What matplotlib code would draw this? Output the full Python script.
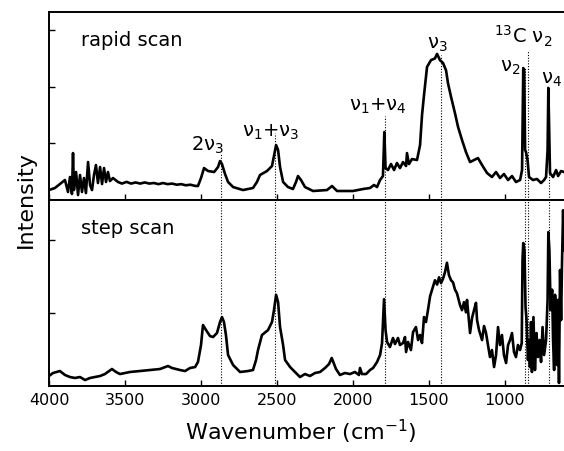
import matplotlib
matplotlib.use("Agg")
import matplotlib.pyplot as plt

# ---------------- data ----------------
rapid_wn = [4000, 3961, 3895, 3875, 3862, 3849, 3842, 3836, 3822, 3809, 3796, 3783, 3770, 3757,
            3743, 3730, 3717, 3704, 3691, 3678, 3664, 3651, 3638, 3625, 3612, 3599, 3579, 3546,
            3520, 3490, 3460, 3430, 3400, 3370, 3340, 3310, 3280, 3250, 3220, 3190, 3160, 3130,
            3100, 3070, 3040,
            3020, 3000, 2980, 2954, 2914, 2888, 2875, 2862, 2842, 2822,
            2789, 2724, 2658, 2632, 2612, 2566, 2533, 2506, 2493, 2480, 2460, 2428, 2395, 2375,
            2362, 2342, 2316, 2263, 2171, 2138, 2105, 2000, 1934, 1888, 1862, 1842, 1822, 1803,
            1794, 1786, 1770, 1750, 1730, 1711, 1691, 1671, 1651, 1645, 1632, 1612, 1579, 1559,
            1546, 1533, 1513, 1487, 1461, 1447, 1428, 1408, 1388, 1375, 1355, 1329, 1309, 1283,
            1257, 1230, 1204, 1178, 1151, 1118, 1086, 1059, 1033, 1007, 980, 954, 928, 901,
            888, 880, 874, 868, 862, 852, 842, 816, 790, 763, 743, 730, 720, 715, 707, 704,
            684, 664, 651, 631, 612]
rapid_int = [1.76, 2.12, 3.53, 1.41, 4.06, 1.06, 8.29, 1.76, 4.94, 0.88, 4.41, 1.41, 3.88, 1.23,
             6.70, 2.65, 1.76, 4.41, 6.17, 3.00, 5.82, 2.82, 5.64, 3.18, 4.94, 3.35, 3.88, 3.18,
             2.90, 3.20, 2.90, 3.10, 2.90, 3.10, 2.90, 3.00, 2.80, 3.00, 2.80, 2.90, 2.70, 2.80,
             2.60, 2.70, 2.50,
             2.47, 3.88, 5.64, 5.12, 4.94, 5.82, 6.88, 6.35, 4.59, 3.18,
             2.29, 1.76, 2.12, 3.18, 4.41, 5.12, 6.00, 9.70, 8.82, 5.82, 3.18, 2.29, 1.94, 3.18,
             4.23, 3.53, 2.29, 1.59, 1.76, 2.47, 1.59, 1.59, 1.94, 2.12, 2.65, 2.29, 3.53, 4.23,
             12.0, 5.64, 5.29, 6.35, 5.29, 6.53, 5.64, 6.70, 6.00, 8.29, 6.35, 7.23, 7.06, 9.70,
             15.0, 18.5, 23.5, 24.7, 25.0, 25.8, 24.7, 24.2, 22.9, 20.6, 18.2, 15.3, 12.9, 10.6,
             8.47, 6.70, 7.06, 7.41, 6.17, 4.76, 4.06, 4.94, 3.88, 4.59, 3.53, 4.23, 3.18, 3.53,
             5.29, 23.3, 22.9, 8.82, 8.47, 7.06, 4.06, 3.53, 3.71, 3.00, 3.53, 4.06, 8.80, 19.8,
             8.80, 4.76, 4.06, 5.29, 4.23, 5.12, 4.94]

step_wn = [4000, 3974, 3928, 3895, 3862, 3829, 3796, 3763, 3730, 3697, 3664, 3632, 3586, 3559,
           3533, 3467, 3401, 3336, 3270, 3217, 3191, 3138, 3105, 3072, 3039, 3020, 3000, 2987,
           2967, 2941, 2921, 2895, 2875, 2862, 2849, 2836, 2822, 2789, 2743, 2691, 2658, 2638,
           2625, 2599, 2559, 2533, 2520, 2506, 2493, 2480, 2460, 2447, 2414, 2382, 2349, 2316,
           2283, 2250, 2217, 2184, 2158, 2140, 2125, 2112, 2086, 2053, 2020, 1987, 1961, 1954,
           1941, 1914, 1888, 1868, 1842, 1822, 1809, 1796, 1786, 1776, 1757, 1737, 1724, 1704,
           1691, 1671, 1658, 1651, 1638, 1619, 1605, 1586, 1572, 1559, 1546, 1533, 1520, 1507,
           1493, 1480, 1467, 1461, 1447, 1434, 1421, 1408, 1395, 1382, 1369, 1355, 1342, 1329,
           1316, 1296, 1283, 1270, 1257, 1250, 1237, 1230, 1217, 1204, 1191, 1184, 1171, 1151,
           1138, 1125, 1112, 1099, 1086, 1072, 1059, 1046, 1033, 1020, 1007, 993, 980, 967,
           954, 941, 928, 915, 901, 890, 885, 880, 872, 865, 859, 849, 842, 836, 829, 823,
           813, 803, 793, 783, 773, 763, 753, 743, 730, 720, 715, 708, 700, 690, 684, 677,
           671, 664, 658, 651, 645, 638, 631, 625, 618, 612]
step_int = [1.37, 1.78, 2.05, 1.51, 1.23, 1.10, 1.23, 0.82, 1.10, 1.23, 1.37, 1.64, 2.33, 1.92,
            1.64, 1.92, 2.05, 2.19, 2.33, 2.74, 2.47, 2.19, 2.05, 2.47, 2.60, 3.29, 5.62, 8.36,
            7.67, 6.85, 6.71, 7.26, 8.77, 9.45, 8.77, 6.99, 4.25, 2.88, 1.92, 2.05, 2.19, 3.56,
            4.93, 6.99, 7.67, 8.77, 10.4, 12.5, 11.5, 8.08, 5.62, 3.56, 2.60, 1.92, 1.23, 1.64,
            1.37, 1.78, 1.92, 2.47, 3.01, 3.84, 3.01, 2.33, 1.51, 1.78, 1.64, 1.92, 1.51, 2.47,
            1.64, 1.64, 2.19, 2.47, 3.29, 4.25, 5.89, 11.9, 7.67, 6.03, 5.34, 6.58, 5.75, 6.58,
            5.62, 5.89, 6.71, 4.66, 6.03, 4.93, 7.40, 8.08, 6.30, 6.99, 5.89, 9.45, 8.77, 10.4,
            12.3, 13.2, 14.1, 14.5, 13.9, 14.9, 14.1, 14.7, 15.6, 16.9, 15.2, 14.5, 14.2, 13.2,
            12.7, 11.1, 10.4, 11.5, 10.1, 11.8, 8.77, 7.26, 9.32, 10.4, 11.4, 9.04, 7.67, 6.30,
            8.22, 7.26, 5.62, 3.97, 4.93, 2.60, 4.25, 8.08, 5.62, 6.99, 4.25, 3.15, 5.62, 6.30,
            7.26, 4.66, 3.97, 5.62, 4.93, 5.89, 17.3, 19.6, 18.6, 10.8, 9.32, 3.56, 6.30, 2.60,
            8.77, 1.92, 9.45, 2.19, 7.26, 3.97, 6.30, 3.29, 8.08, 4.25, 6.30, 11.8, 21.1, 18.6,
            10.4, 13.2, 6.30, 2.19, 12.5, 10.4, 2.88, 11.8, 0.41, 15.9, 9.04, 17.0, 24.1, 18.6]

# band assignments: position, label, label anchor (wn, y), dotted-line top in upper panel
band_pos = [2870, 2511, 1792, 1423, 870, 848, 713]
band_top = [8.3, 11.8, 14.8, 25.6, 23.3, 26.5, 19.9]
label_text = [r"2ν$_3$", r"ν$_1$+ν$_3$", r"ν$_1$+ν$_4$", r"ν$_3$", r"ν$_2$", r"$^{13}$C ν$_2$", r"ν$_4$"]
label_x = [2960, 2539, 1835, 1447, 967, 878, 697]
label_y = [7.7, 10.2, 14.9, 25.8, 21.7, 26.7, 19.6]

xticks = [4000, 3500, 3000, 2500, 2000, 1500, 1000]
panel_names = ["rapid scan", "step scan"]

# ---------------- figure ----------------
fig = plt.figure(figsize=(5.64, 4.51), dpi=100)
left = 49 / 564
right = 1.0
ax1 = fig.add_axes([left, 1 - 200 / 451, right - left, (200 - 12) / 451])
ax2 = fig.add_axes([left, 1 - 386 / 451, right - left, (386 - 200) / 451], sharex=ax1)

ax1.plot(rapid_wn, rapid_int, color="black", lw=1.9, solid_joinstyle="round")
ax2.plot(step_wn, step_int, color="black", lw=1.9, solid_joinstyle="round")

ax1.set_xlim(4000, 612)
ax1.set_ylim(0, 33.2)
ax2.set_ylim(0, 25.5)
ax1.set_yticks([10, 20, 30])
ax2.set_yticks([10, 20])

for ax in (ax1, ax2):
    ax.set_xticks(xticks)
    ax.tick_params(direction="in", length=4, width=1, labelleft=False)
    ax.spines["right"].set_visible(False)
    for s in ("left", "top", "bottom"):
        ax.spines[s].set_linewidth(1.4)
ax1.tick_params(labelbottom=False)
ax2.tick_params(axis="x", labelsize=11.5, pad=5)

# dotted band lines
for p, t in zip(band_pos, band_top):
    ax1.plot([p, p], [0, t], color="black", lw=0.8, ls=(0, (1, 1.5)))
    ax2.axvline(p, color="black", lw=0.8, ls=(0, (1, 1.5)))

for txt, x, y in zip(label_text, label_x, label_y):
    ax1.text(x, y, txt, fontsize=14, ha="center", va="bottom")

ax1.text(3790, 28.2, panel_names[0], fontsize=14, ha="left", va="center")
ax2.text(3790, 21.6, panel_names[1], fontsize=14, ha="left", va="center")

fig.text(0.045, 1 - 200 / 451, "Intensity", rotation=90, fontsize=16, ha="center", va="center")
fig.text(301 / 564, 1 - 432 / 451, r"Wavenumber (cm$^{-1}$)", fontsize=16, ha="center", va="center")

fig.savefig("out.png", dpi=100)
